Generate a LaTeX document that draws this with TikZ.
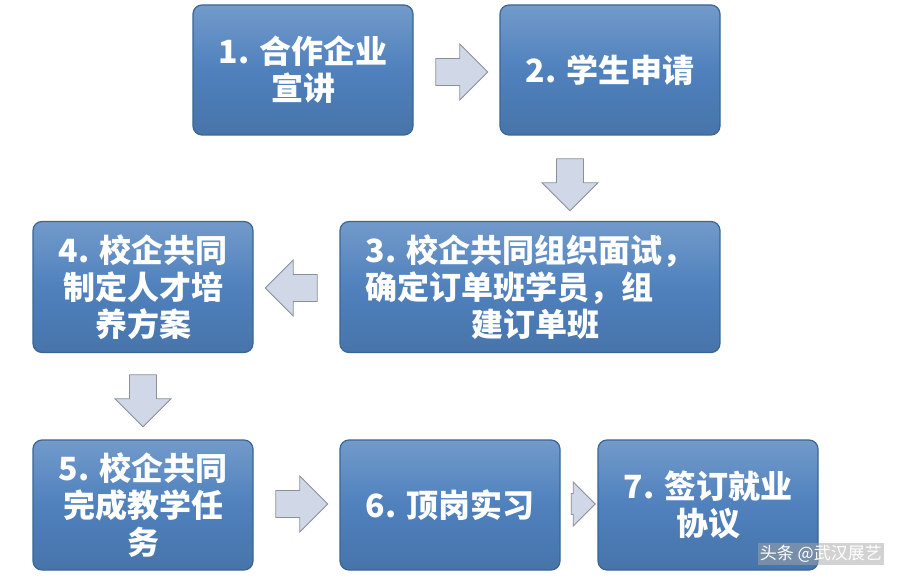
\documentclass[tikz,border=0pt]{standalone}
\usepackage{fontspec}
\newfontfamily\cjk{Noto Sans CJK SC}
\usetikzlibrary{shapes.arrows}
\definecolor{boxblue}{HTML}{4F81BD}
\definecolor{boxdark}{HTML}{3A6595}
\definecolor{arrfill}{HTML}{D0D8E8}
\definecolor{arrline}{HTML}{8A8F99}
\begin{document}
\begin{tikzpicture}[x=1pt,y=-1pt,
  stepbox/.style={draw=boxdark, line width=1.2pt, rounded corners=9pt,
    top color=boxblue!80!white, bottom color=boxblue!90!black, middle color=boxblue,
    text=white, font=\cjk\bfseries\fontsize{32}{37}\selectfont, align=center, inner sep=2pt},
  blk/.style={single arrow, draw=arrline, fill=arrfill, line width=0.8pt,
    minimum height=52pt, minimum width=56pt, single arrow head extend=10pt,
    single arrow head indent=0pt, inner sep=9pt}]
\useasboundingbox (0,0) rectangle (899,583);
\fill[white] (0,0) rectangle (899,583);
\node[stepbox, minimum width=220pt, minimum height=130pt] (b1) at (303,70) {1. 合作企业\\宣讲};
\node[stepbox, minimum width=220pt, minimum height=130pt] (b2) at (610,70) {2. 学生申请};
\node[stepbox, minimum width=380pt, minimum height=131pt, align=left] (b3) at (530,287) {3. 校企共同组织面试，\\确定订单班学员，组\\\hspace*{3.3em}建订单班};
\node[stepbox, minimum width=220pt, minimum height=131pt] (b4) at (143,287) {4. 校企共同\\制定人才培\\养方案};
\node[stepbox, minimum width=220pt, minimum height=130pt] (b5) at (143,505) {5. 校企共同\\完成教学任\\务};
\node[stepbox, minimum width=220pt, minimum height=130pt] (b6) at (450,505) {6. 顶岗实习};
\node[stepbox, minimum width=220pt, minimum height=130pt] (b7) at (708,505) {7. 签订就业\\协议};
\node[blk] (a1) at (455,72) {};
\node[blk, shape border rotate=270] (a2) at (570,178) {};
\node[blk, shape border rotate=180] (a3) at (298,288) {};
\node[blk, shape border rotate=270] (a4) at (143,394) {};
\node[blk] (a5) at (295,504) {};
\node[blk, minimum height=24pt, minimum width=44pt, inner sep=5pt, single arrow head extend=6pt] (a6) at (578,504) {};
\node[text=white, font=\cjk\fontsize{17}{20}\selectfont, anchor=east, fill=black!35, fill opacity=0.5, text opacity=1, inner sep=2pt] (wm) at (884,554) {头条 @武汉展艺};
\end{tikzpicture}
\end{document}
